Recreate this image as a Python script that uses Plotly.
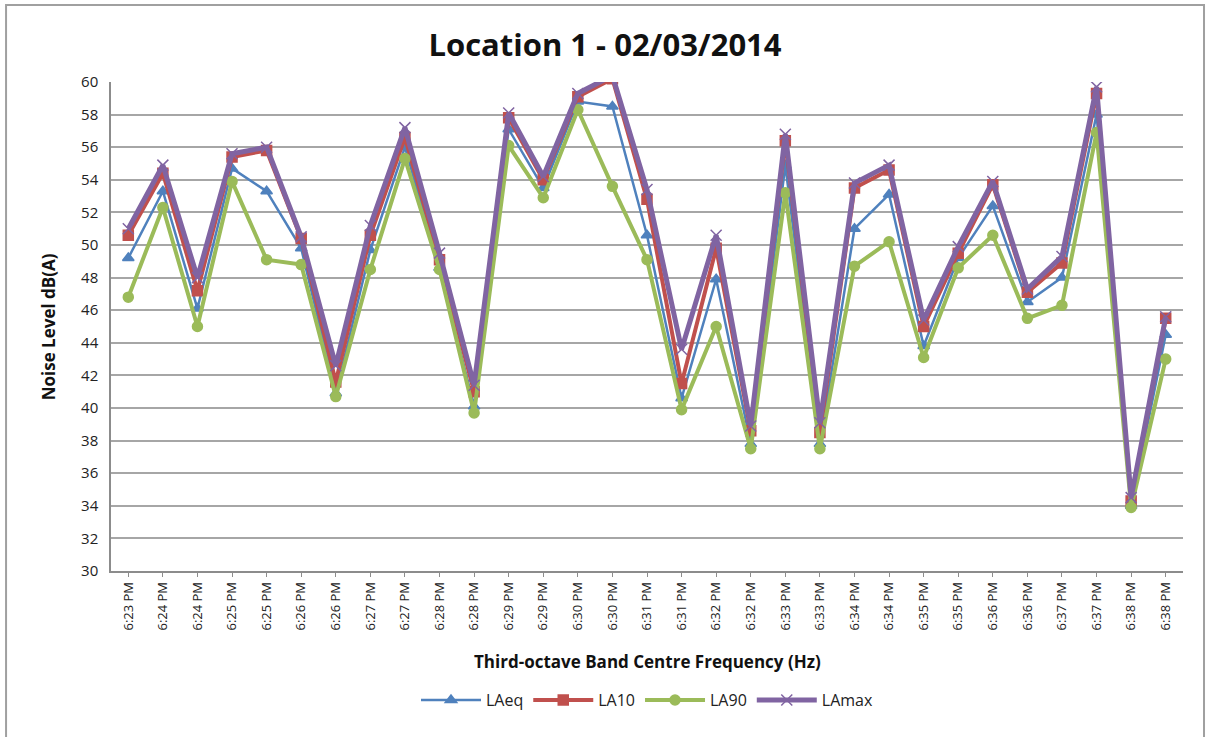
import plotly.graph_objects as go

times = ["6:23 PM", "6:24 PM", "6:24 PM", "6:25 PM", "6:25 PM", "6:26 PM", "6:26 PM",
         "6:27 PM", "6:27 PM", "6:28 PM", "6:28 PM", "6:29 PM", "6:29 PM", "6:30 PM",
         "6:30 PM", "6:31 PM", "6:31 PM", "6:32 PM", "6:32 PM", "6:33 PM", "6:33 PM",
         "6:34 PM", "6:34 PM", "6:35 PM", "6:35 PM", "6:36 PM", "6:36 PM", "6:37 PM",
         "6:37 PM", "6:38 PM", "6:38 PM"]

laeq = [49.2, 53.3, 46.1, 54.7, 53.3, 49.8, 40.9, 49.7, 56.0, 48.6, 40.1, 57.1, 53.5, 58.8,
        58.5, 50.6, 40.6, 47.9, 37.8, 54.9, 37.8, 51.0, 53.1, 43.8, 49.2, 52.4, 46.5, 48.0,
        58.0, 34.0, 44.5]
la10 = [50.6, 54.4, 47.2, 55.4, 55.8, 50.4, 41.6, 50.6, 56.6, 49.1, 41.0, 57.8, 54.0, 59.1,
        60.2, 52.8, 41.5, 49.8, 38.6, 56.4, 38.5, 53.5, 54.6, 45.0, 49.5, 53.7, 47.1, 48.9,
        59.3, 34.3, 45.5]
la90 = [46.8, 52.3, 45.0, 53.9, 49.1, 48.8, 40.7, 48.5, 55.3, 48.5, 39.7, 56.1, 52.9, 58.3,
        53.6, 49.1, 39.9, 45.0, 37.5, 53.2, 37.5, 48.7, 50.2, 43.1, 48.6, 50.6, 45.5, 46.3,
        56.9, 33.9, 43.0]
lamax = [51.0, 54.9, 48.0, 55.6, 56.0, 50.5, 42.6, 51.2, 57.2, 49.5, 41.4, 58.1, 54.2, 59.3,
         60.4, 53.4, 43.6, 50.6, 38.9, 56.8, 39.1, 53.8, 54.9, 45.4, 49.9, 53.9, 47.3, 49.3,
         59.7, 34.5, 45.6]

yticks = list(range(30, 61, 2))

xpos = list(range(len(times)))

series = [
    ("LAeq", laeq, "#4F81BD", "triangle-up", 2.5, 10),
    ("LA10", la10, "#C0504D", "square", 4, 10),
    ("LA90", la90, "#9BBB59", "circle", 4, 10),
    ("LAmax", lamax, "#8064A2", "x-thin-open", 5, 11),
]

fig = go.Figure()
for name, vals, color, sym, lw, ms in series:
    fig.add_trace(go.Scatter(
        x=xpos, y=vals, name=name, mode="lines+markers",
        line=dict(color=color, width=lw),
        marker=dict(symbol=sym, size=ms, color=color,
                    line=dict(color=color, width=1.5)),
    ))

font = "Open Sans, DejaVu Sans, sans-serif"

fig.update_layout(
    width=1210, height=737,
    paper_bgcolor="white", plot_bgcolor="white",
    margin=dict(l=111, r=27, t=82, b=166),
    showlegend=True,
    legend=dict(orientation="h", x=0.5, xanchor="center", y=-0.264, yanchor="middle",
                font=dict(family=font, size=16, color="#222"),
                itemwidth=60, tracegroupgap=0),
    title=dict(text="<b>Location 1 - 02/03/2014</b>", x=0.5, xanchor="center",
               y=1 - 45 / 737, yanchor="middle",
               font=dict(family=font, size=31, color="#111")),
    xaxis=dict(
        range=[-0.5, 30.5], tickmode="array", tickvals=xpos, ticktext=times,
        tickangle=-90, tickfont=dict(family=font, size=13, color="#222"),
        showgrid=False, zeroline=False, showline=True, linecolor="#8c8c8c", linewidth=1.5,
        ticks="outside", ticklen=4, tickcolor="#8c8c8c",
    ),
    yaxis=dict(
        range=[30, 60], tickmode="array", tickvals=yticks,
        tickfont=dict(family=font, size=15, color="#222"),
        showgrid=True, gridcolor="#a6a6a6", gridwidth=1.5, zeroline=False,
        showline=True, linecolor="#8c8c8c", linewidth=1.5, ticks="", ticklabelstandoff=8,
    ),
    annotations=[
        dict(text="<b>Third-octave Band Centre Frequency (Hz)</b>", xref="paper", yref="paper",
             x=0.5, y=-0.186, xanchor="center", yanchor="middle", showarrow=False,
             font=dict(family=font, size=17, color="#111")),
        dict(text="<b>Noise Level dB(A)</b>", xref="paper", yref="paper",
             x=-0.058, y=0.5, xanchor="center", yanchor="middle", showarrow=False,
             textangle=-90, font=dict(family=font, size=17, color="#111")),
    ],
    shapes=[
        dict(type="rect", xref="paper", yref="paper",
             x0=-0.0979, x1=1.0196, y0=-0.36, y1=1.1575,
             line=dict(color="#a0a0a0", width=2), layer="below"),
    ],
)

fig.write_html("out.html", config={"displayModeBar": False},
               post_script="document.body.style.margin='0';document.body.style.overflow='hidden';")
